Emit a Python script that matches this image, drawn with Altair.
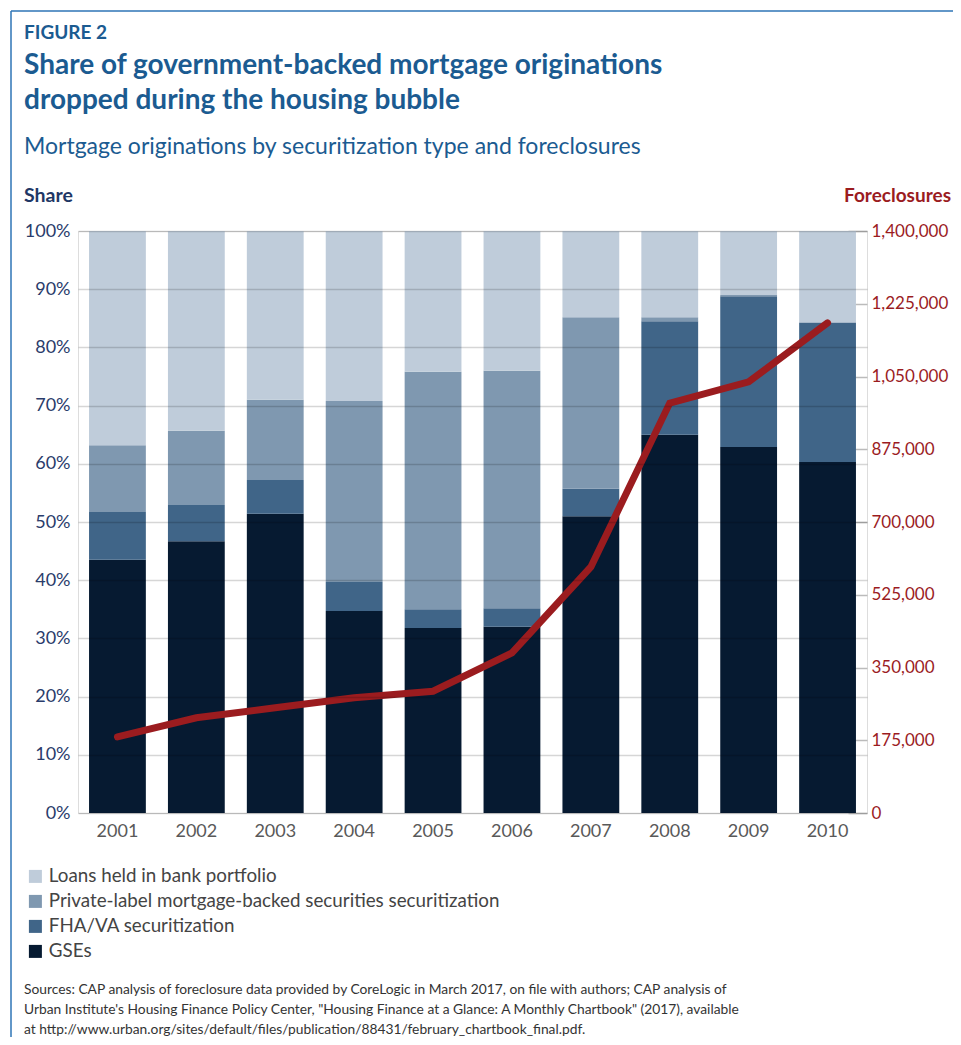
import altair as alt
import pandas as pd

FONT = "Lato"

years = ["2001", "2002", "2003", "2004", "2005", "2006", "2007", "2008", "2009", "2010"]
gse = [43.5, 46.7, 51.4, 34.7, 31.8, 32.0, 51.0, 65.0, 62.9, 60.3]
fha = [8.2, 6.2, 5.8, 5.0, 3.2, 3.2, 4.7, 19.5, 25.9, 23.9]
pls = [11.5, 12.8, 13.8, 31.1, 40.8, 40.8, 29.5, 0.7, 0.2, 0.1]
bank = [36.8, 34.3, 29.0, 29.2, 24.2, 24.0, 14.8, 14.8, 11.0, 15.7]
foreclosures = [183000, 229000, 253000, 277000, 293000, 385000, 592000, 986000, 1037000, 1179000]

series_names = [
    "Loans held in bank portfolio",
    "Private-label mortgage-backed securities securitization",
    "FHA/VA securitization",
    "GSEs",
]
series_colors = ["#BFCCDA", "#7F98B0", "#406588", "#061A31"]
share_ticks = [0, 10, 20, 30, 40, 50, 60, 70, 80, 90, 100]
fc_ticks = [0, 175000, 350000, 525000, 700000, 875000, 1050000, 1225000, 1400000]

rows = []
for i, y in enumerate(years):
    for order, (name, vals) in enumerate(zip(series_names[::-1], [gse, fha, pls, bank])):
        rows.append({"year": y, "type": name, "share": vals[i], "ord": order})
df = pd.DataFrame(rows)
fdf = pd.DataFrame({"year": years, "foreclosures": foreclosures})

TITLE_BLUE = "#1B5B91"
RED = "#9B1C1F"

bars = alt.Chart(df).mark_bar().encode(
    x=alt.X(
        "year:N", sort=years,
        scale=alt.Scale(paddingInner=0.28, paddingOuter=0.14),
        axis=alt.Axis(title=None, labelAngle=0, ticks=False, domain=False,
                      labelFontSize=18, labelColor="#595959", labelPadding=9,
                      labelFont=FONT),
    ),
    y=alt.Y(
        "share:Q", stack="zero",
        scale=alt.Scale(domain=[0, 100], nice=False),
        axis=alt.Axis(title=None, values=share_ticks, labelExpr="datum.value + '%'",
                      grid=True, gridColor="#000000", gridOpacity=0.16, gridWidth=1.5,
                      ticks=False, domain=False, labelPadding=8, labelFontSize=18,
                      labelColor="#2A3C6B", labelFont=FONT, zindex=1),
    ),
    color=alt.Color(
        "type:N", sort=series_names,
        scale=alt.Scale(domain=series_names, range=series_colors),
        legend=alt.Legend(title=None, orient="none", legendX=-52, legendY=636,
                          direction="vertical", symbolType="square", symbolSize=169,
                          symbolStrokeWidth=0, symbolOpacity=1, labelFontSize=18.8,
                          labelColor="#444444", labelFont=FONT, rowPadding=5,
                          labelOffset=4, labelLimit=600),
    ),
    order=alt.Order("ord:Q", sort="ascending"),
)

line = alt.Chart(fdf).mark_line(color=RED, strokeWidth=7, strokeCap="round").encode(
    x=alt.X("year:N", sort=years),
    y=alt.Y(
        "foreclosures:Q",
        scale=alt.Scale(domain=[0, 1400000], nice=False),
        axis=alt.Axis(orient="right", title=None, values=fc_ticks, format=",d",
                      grid=False, domain=False, tickColor="#BBBBBB", tickSize=19,
                      tickWidth=1.5, offset=-19, labelPadding=4, labelFontSize=17,
                      labelColor=RED, labelFont=FONT),
    ),
)


def txt(text, x, y, size, color, weight="normal", align="left", lh=None):
    kw = dict(align=align, baseline="alphabetic", font=FONT, fontSize=size,
              fontWeight=weight, color=color)
    if lh is not None:
        kw["lineHeight"] = lh
    return alt.Chart(alt.Data(values=[{}])).mark_text(**kw).encode(
        x=alt.value(x), y=alt.value(y), text=alt.value(text)
    )


frame_top = alt.Chart(alt.Data(values=[{}])).mark_rule(color="#2E75B6", strokeWidth=1.5).encode(
    x=alt.value(-67), x2=alt.value(900), y=alt.value(-220)
)
frame_left = alt.Chart(alt.Data(values=[{}])).mark_rule(color="#2E75B6", strokeWidth=1.5).encode(
    x=alt.value(-67), y=alt.value(-220), y2=alt.value(820)
)

texts = [
    txt("FIGURE 2", -54, -192, 19, TITLE_BLUE, "bold"),
    txt(["Share of government-backed mortgage originations",
         "dropped during the housing bubble"], -54, -157, 28, TITLE_BLUE, "bold", lh=35),
    txt("Mortgage originations by securitization type and foreclosures", -54, -77, 23, TITLE_BLUE),
    txt("Share", -54, -29, 19.5, "#1F3765", "bold"),
    txt("Foreclosures", 873, -29, 19, RED, "bold", align="right"),
    txt(["Sources: CAP analysis of foreclosure data provided by CoreLogic in March 2017, on file with authors; CAP analysis of",
         "Urban Institute's Housing Finance Policy Center, \"Housing Finance at a Glance: A Monthly Chartbook\" (2017), available",
         "at http://www.urban.org/sites/default/files/publication/88431/february_chartbook_final.pdf."],
        -54, 763, 13.8, "#333333", lh=20),
]

chart = alt.layer(bars, line, frame_top, frame_left, *texts).resolve_scale(
    y="independent"
).properties(
    width=789, height=582,
    autosize=alt.AutoSizeParams(type="none"),
    padding={"left": 70, "top": 223, "right": 86, "bottom": 224},
).configure_view(stroke=None).configure(font=FONT)

chart.save("out.html", embed_options={"renderer": "svg", "actions": False})
